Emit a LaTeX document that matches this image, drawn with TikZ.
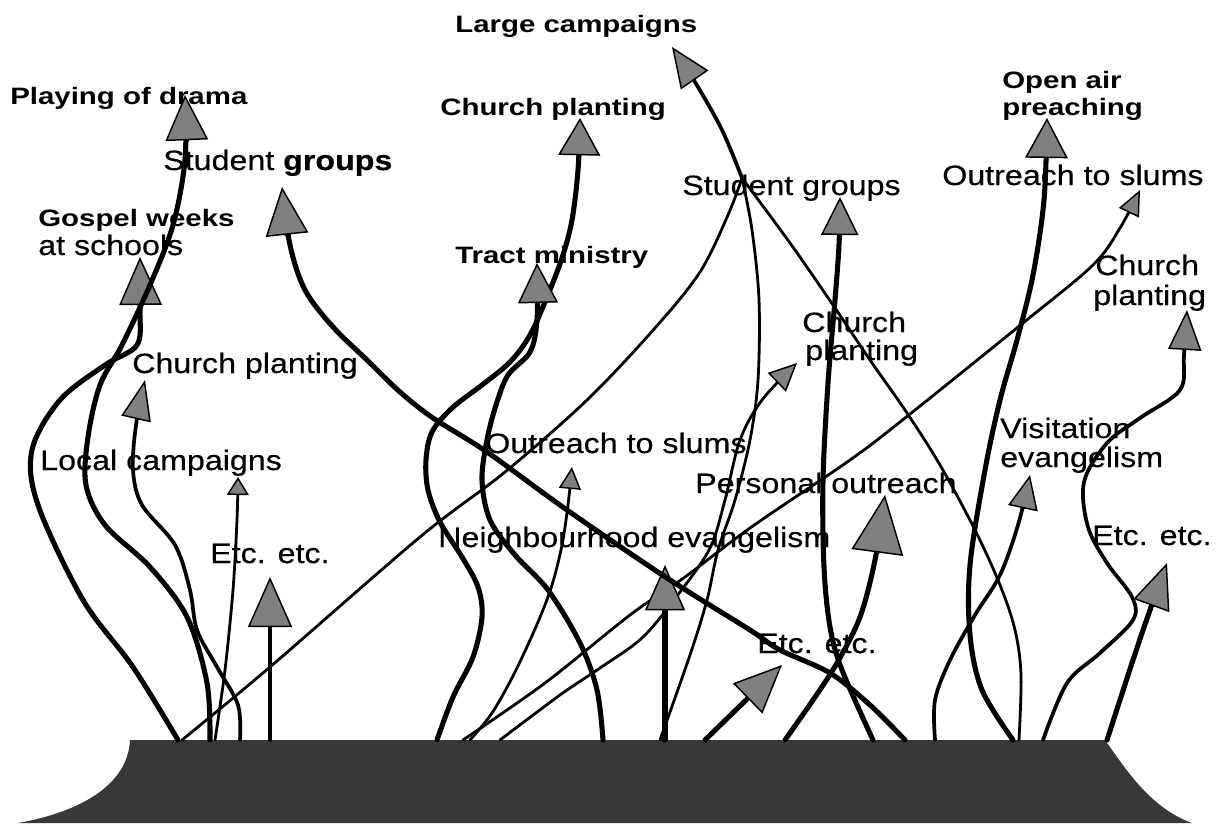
\documentclass[tikz,border=0pt]{standalone}
\usepackage{fontspec}
\setmainfont{Liberation Sans}
\newfontfamily\regfont[FakeStretch=1.15,FakeBold=0.4]{Liberation Sans}
\newfontfamily\bldfont[FakeStretch=1.24]{Liberation Sans}
\usetikzlibrary{arrows.meta}
\definecolor{headgray}{gray}{0.5}
\definecolor{basegray}{gray}{0.22}
\tikzset{
  reg/.style={font=\regfont\fontsize{21}{25}\selectfont, inner sep=0pt, anchor=base west},
  bld/.style={font=\bldfont\bfseries\fontsize{17.8}{21}\selectfont, inner sep=0pt, anchor=base west},
  shaftA/.style={line width=3.8pt, line cap=round, line join=round},
  shaftB/.style={line width=2.8pt, line cap=round, line join=round},
  shaftC/.style={line width=2.1pt, line cap=round, line join=round},
  headed/.style 2 args={arrows={-{Triangle[length=#1,width=#2,fill=headgray,line width'=1.1pt]}}},
  smoothed/.style={smooth, tension=0.55},
}
\begin{document}
\begin{tikzpicture}[x=0.75pt,y=-0.75pt]
\useasboundingbox (0,0) rectangle (1217,825);
% base mound
\fill[basegray] (130,740) -- (1105,740) .. controls (1125,768) and (1150,808) .. (1192,823) -- (18,823) .. controls (80,812) and (128,785) .. (130,740) -- cycle;

% junction and end points
\coordinate (J) at (742,178);
\coordinate (bGos) at (178,740);   \coordinate (tGos) at (140,257);
\coordinate (bPlay) at (210,740);  \coordinate (tPlay) at (185,95);
\coordinate (bCP1) at (240,740);   \coordinate (tCP1) at (145,380);
\coordinate (bEtc1) at (215,740);  \coordinate (tEtc1) at (238,477);
\coordinate (bVert) at (270,740);  \coordinate (tVert) at (270,577);
\coordinate (bLL) at (182,740);
\coordinate (tLarge) at (672,47);
\coordinate (bB) at (660,740);
\coordinate (bC) at (1019,740);
\coordinate (bCP2) at (437,740);   \coordinate (tCP2) at (580,118);
\coordinate (bTract) at (603,740); \coordinate (tTract) at (537,263);
\coordinate (bOut1) at (470,740);  \coordinate (tOut1) at (572,467);
\coordinate (bOut2) at (463,740);  \coordinate (tOut2) at (1140,190);
\coordinate (bCP3) at (500,740);   \coordinate (tCP3) at (797,363);
\coordinate (bNeigh) at (665,740); \coordinate (tNeigh) at (665,565);
\coordinate (bEtc2) at (705,740);  \coordinate (tEtc2) at (782,665);
\coordinate (bPers) at (785,740);  \coordinate (tPers) at (885,495);
\coordinate (bSG2) at (873,740);   \coordinate (tSG2) at (840,197);
\coordinate (bSG1) at (905,740);   \coordinate (tSG1) at (282,187);
\coordinate (bVis) at (935,740);   \coordinate (tVis) at (1030,475);
\coordinate (bOpen) at (1013,740); \coordinate (tOpen) at (1047,118);
\coordinate (bCP4) at (1043,740);  \coordinate (tCP4) at (1187,310);
\coordinate (bEtc3) at (1107,740); \coordinate (tEtc3) at (1167,563);

% left cluster
\draw[shaftA, headed={36pt}{32pt}] plot[smoothed] coordinates {(bGos) (133,667) (83,600) (38,505) (32,450) (60,400) (105,365) (137,345) (140,310) (tGos)};
\draw[shaftA, headed={34pt}{32pt}] plot[smoothed] coordinates {(bPlay) (207,683) (187,617) (150,567) (105,525) (86,485) (88,437) (100,385) (122,345) (150,285) (173,225) (185,160) (tPlay)};
\draw[shaftB, headed={30pt}{22.5pt}] plot[smoothed] coordinates {(bCP1) (238,705) (217,667) (197,630) (190,590) (175,545) (142,505) (133,470) (136,425) (tCP1)};
\draw[shaftC, headed={13.5pt}{16.5pt}] plot[smoothed] coordinates {(bEtc1) (225,670) (233,590) (237,520) (tEtc1)};
\draw[shaftB, headed={37.5pt}{33pt}] (bVert) -- (tVert);

% lines to the junction and large campaigns
\draw[shaftC] plot[smoothed] coordinates {(bLL) (270,667) (420,537) (505,472) (587,400) (655,328) (700,272) (728,215) (J)};
\draw[shaftC] plot[smoothed] coordinates {(J) (752,230) (759,300) (758,380) (750,440) (735,500) (718,550) (707,600) (690,655) (bB)};
\draw[shaftC] plot[smoothed] coordinates {(J) (790,243) (833,305) (870,360) (907,413) (940,465) (975,530) (1000,585) (1015,630) (1021,675) (bC)};
\draw[shaftB, headed={30pt}{25pt}] plot[smoothed] coordinates {(J) (722,130) (695,82) (tLarge)};

% middle cluster
\draw[shaftA, headed={28pt}{31.5pt}] plot[smoothed] coordinates {(bCP2) (453,697) (473,657) (482,617) (478,587) (462,557) (440,522) (428,490) (426,460) (432,432) (452,408) (482,385) (510,362) (530,335) (547,297) (562,258) (572,220) (578,170) (tCP2)};
\draw[shaftA, headed={30pt}{30pt}] plot[smoothed] coordinates {(bTract) (597,690) (580,643) (548,590) (515,555) (490,520) (482,480) (487,440) (496,405) (508,375) (530,352) (537,320) (tTract)};
\draw[shaftC, headed={16.5pt}{16.5pt}] plot[smoothed] coordinates {(bOut1) (492,713) (515,672) (538,622) (552,585) (562,545) (568,505) (tOut1)};
\draw[shaftC, headed={19pt}{16.5pt}] plot[smoothed] coordinates {(bOut2) (545,683) (630,615) (685,577) (750,528) (850,460) (905,418) (1023,323) (1093,265) (1120,228) (tOut2)};
\draw[shaftC, headed={21pt}{19.5pt}] plot[smoothed] coordinates {(bCP3) (560,695) (600,668) (643,637) (680,592) (710,548) (725,500) (740,440) (762,400) (tCP3)};
\draw[shaftA, headed={34pt}{30pt}] (bNeigh) -- (tNeigh);
\draw[shaftA, headed={36pt}{31.5pt}] (bEtc2) -- (tEtc2);
\draw[shaftA, headed={43.5pt}{39pt}] plot[smoothed] coordinates {(bPers) (813,700) (837,663) (860,617) (875,560) (tPers)};
\draw[shaftA, headed={28.5pt}{28pt}] plot[smoothed] coordinates {(bSG2) (842,670) (830,627) (824,567) (823,480) (828,383) (835,300) (839,245) (tSG2)};
\draw[shaftA, headed={36pt}{32pt}] plot[smoothed] coordinates {(bSG1) (870,705) (830,673) (780,650) (750,630) (667,578) (567,510) (487,452) (433,418) (400,392) (367,360) (333,327) (305,290) (290,245) (tSG1)};

% right cluster
\draw[shaftB, headed={25.5pt}{22.5pt}] plot[smoothed] coordinates {(bVis) (935,700) (950,660) (975,615) (1000,575) (1018,525) (tVis)};
\draw[shaftA, headed={30pt}{32pt}] plot[smoothed] coordinates {(bOpen) (982,690) (970,635) (970,565) (985,470) (1000,400) (1017,340) (1033,275) (1044,200) (tOpen)};
\draw[shaftB, headed={30pt}{25pt}] plot[smoothed] coordinates {(bCP4) (1067,683) (1100,653) (1133,620) (1132,597) (1107,563) (1088,527) (1084,482) (1107,443) (1140,418) (1180,390) (1184,355) (tCP4)};
\draw[shaftA, headed={34pt}{28.5pt}] plot[smoothed] coordinates {(bEtc3) (1133,660) (1150,610) (tEtc3)};

% labels
\node[bld] (lPlay) at (10,104) {Playing of drama};
\node[reg] (lSG1) at (163,170) {Student {\bfseries groups}};
\node[bld] (lGos1) at (38,226) {Gospel weeks};
\node[reg] (lGos2) at (38,255) {at schools};
\node[reg] (lCP1) at (132,373) {Church planting};
\node[reg] (lLoc) at (40,470) {Local campaigns};
\node[reg] (lEtc1) at (210,563) {Etc. etc.};
\node[bld] (lLarge) at (455,32) {Large campaigns};
\node[bld] (lCP2) at (440,115) {Church planting};
\node[bld] (lTract) at (455,263) {Tract ministry};
\node[reg] (lSG2) at (682,195) {Student groups};
\node[reg] (lCP3a) at (802,332) {Church};
\node[reg] (lCP3b) at (805,360) {planting};
\node[reg] (lOut1) at (485,453) {Outreach to slums};
\node[reg] (lPers) at (695,493) {Personal outreach};
\node[reg] (lNeigh) at (438,547) {Neighbourhood evangelism};
\node[reg] (lEtc2) at (757,653) {Etc. etc.};
\node[bld] (lOpen1) at (1002,88) {Open air};
\node[bld] (lOpen2) at (1002,115) {preaching};
\node[reg] (lOut2) at (942,185) {Outreach to slums};
\node[reg] (lCP4a) at (1095,275) {Church};
\node[reg] (lCP4b) at (1093,305) {planting};
\node[reg] (lVis1) at (1000,438) {Visitation};
\node[reg] (lVis2) at (1000,467) {evangelism};
\node[reg] (lEtc3) at (1092,545) {Etc. etc.};
\end{tikzpicture}
\end{document}
